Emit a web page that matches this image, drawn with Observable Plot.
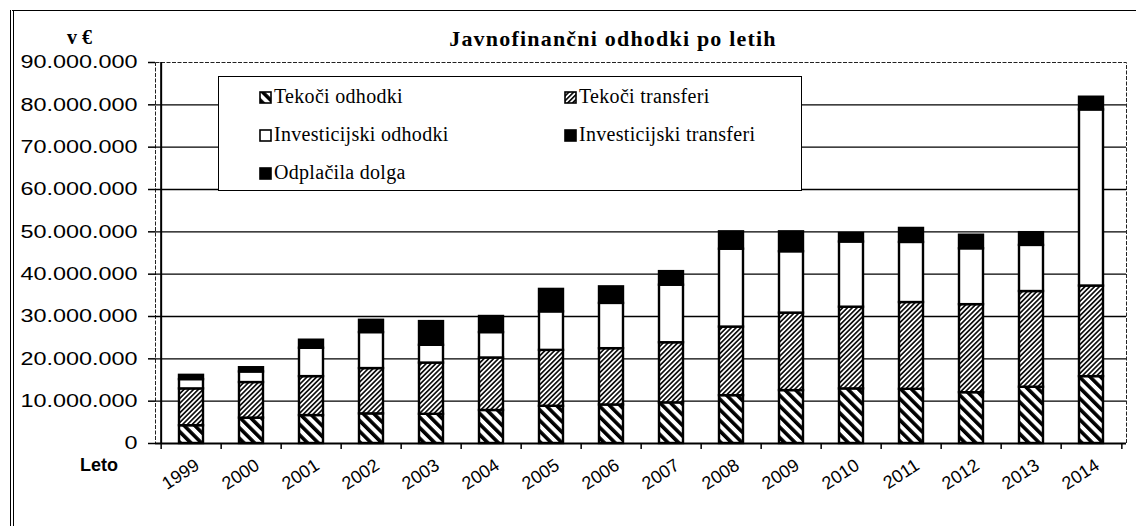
<!DOCTYPE html>
<html>
<head>
<meta charset="utf-8">
<script src="https://cdn.jsdelivr.net/npm/d3@7"></script>
<script src="https://cdn.jsdelivr.net/npm/@observablehq/plot@0.6"></script>
<style>
  html, body { margin: 0; padding: 0; background: #fff; }
  #wrap { position: relative; width: 1136px; height: 526px; overflow: hidden; background: #fff; }
  #wrap svg.plot { position: absolute; left: 0; top: 0; }
  .outer { position: absolute; left: 10px; top: 10px; width: 1140px; height: 600px;
           border-top: 1.5px solid #000; border-left: 4px double #000; box-sizing: border-box; }
  .title { position: absolute; left: 0; width: 1226px; top: 26px; text-align: center;
           font-family: 'Liberation Serif', 'Times New Roman', serif; font-weight: bold; font-size: 22px; letter-spacing: 1.2px; color: #000; }
  .unit { position: absolute; left: 67px; top: 26px; font-family: 'Liberation Serif', serif; font-weight: bold; font-size: 20px; color:#000; }
  .leto { position: absolute; left: 80px; top: 455px; font-family: 'Liberation Sans', Arial, sans-serif; font-weight: bold; font-size: 18px; color:#000; }
  .legend { position: absolute; left: 218px; top: 76px; width: 584px; height: 115px; background: #fff;
            border: 1.5px solid #000; box-sizing: border-box; }
  .li { position: absolute; font-family: 'Liberation Serif', 'Times New Roman', serif; font-size: 20px; color:#000; white-space: nowrap; letter-spacing: 0.3px; }
  .li svg { vertical-align: -1px; margin-right: 2px; }
</style>
</head>
<body>
<div id="wrap">
  <div class="outer"></div>
</div>
<script>
// ---- Data (millions of €) ----
const years = ["1999","2000","2001","2002","2003","2004","2005","2006","2007","2008","2009","2010","2011","2012","2013","2014"];
const seriesNames = ["Tekoči odhodki","Tekoči transferi","Investicijski odhodki","Investicijski transferi","Odplačila dolga"];
const tekociOdhodki        = [4.2, 6.0, 6.6, 7.0, 6.9, 7.8, 8.8, 9.1, 9.6, 11.3, 12.5, 12.9, 12.8, 12.0, 13.3, 15.8];
const tekociTransferi      = [8.7, 8.4, 9.2, 10.7, 12.1, 12.4, 13.2, 13.3, 14.2, 16.2, 18.3, 19.3, 20.5, 20.8, 22.6, 21.4];
const investicijskiOdhodki = [2.2, 2.5, 6.7, 8.5, 4.2, 6.0, 9.1, 10.7, 13.6, 18.4, 14.5, 15.4, 14.2, 13.2, 10.9, 41.6];
const investicijskiTransf  = [1.0, 1.0, 1.9, 2.9, 5.6, 3.8, 5.3, 3.9, 3.2, 4.1, 4.7, 2.0, 3.3, 3.2, 3.0, 3.0];
const odplacilaDolga       = [0, 0, 0, 0, 0, 0, 0, 0, 0, 0, 0, 0, 0, 0, 0, 0];
const yTickValues = [0, 10e6, 20e6, 30e6, 40e6, 50e6, 60e6, 70e6, 80e6, 90e6];
const yTickLabels = ["0","10.000.000","20.000.000","30.000.000","40.000.000","50.000.000","60.000.000","70.000.000","80.000.000","90.000.000"];

const seriesArrays = [tekociOdhodki, tekociTransferi, investicijskiOdhodki, investicijskiTransf, odplacilaDolga];
const seriesFills = ["url(#patA)", "url(#patB)", "#ffffff", "#000000", "#000000"];

const rows = [];
years.forEach((y, i) => {
  seriesNames.forEach((s, k) => rows.push({year: y, series: s, value: seriesArrays[k][i] * 1e6}));
});

const W = 1136, H = 526, mL = 155, mR = 10, mT = 62, mB = 83;
const step = (W - mL - mR) / years.length;

const chart = Plot.plot({
  width: W, height: H,
  marginLeft: mL, marginRight: mR, marginTop: mT, marginBottom: mB,
  style: {fontFamily: "'Liberation Sans', Arial, sans-serif", background: "transparent", color: "#000"},
  x: {domain: years, paddingInner: 0.6, paddingOuter: 0.3, axis: null, label: null},
  y: {domain: [0, 90e6], axis: null, label: null},
  color: {domain: seriesNames, range: seriesFills},
  marks: [
    Plot.frame({stroke: "#222", strokeWidth: 1, strokeDasharray: "4,1.5"}),
    Plot.ruleY(yTickValues.filter(v => v > 0 && v < 90e6), {stroke: "#000", strokeWidth: 1.4}),
    Plot.barY(rows, Plot.stackY({x: "year", y: "value", fill: "series", order: seriesNames, stroke: "#000", strokeWidth: 2.4})),
    Plot.ruleY([0], {stroke: "#000", strokeWidth: 2}),
    Plot.ruleX([years[0]], {x: d => d, dx: -step / 2, stroke: "#000", strokeWidth: 2}),
    Plot.axisY({ticks: yTickValues, label: null, tickFormat: d => yTickLabels[yTickValues.indexOf(d)], tickSize: 7, tickPadding: 11, fontSize: 18, stroke: "#000", strokeWidth: 1.5}),
    Plot.axisX({ticks: years, label: null, tickSize: 6, tickFormat: () => "", dx: -step / 2, stroke: "#000", strokeWidth: 1.5}),
    Plot.axisX({ticks: [years[years.length - 1]], label: null, tickSize: 6, tickFormat: () => "", dx: step / 2, stroke: "#000", strokeWidth: 1.5}),
    Plot.text(years, {x: d => d, text: d => d, frameAnchor: "bottom", dy: 20, dx: 6, rotate: -33, textAnchor: "end", lineAnchor: "middle", fontSize: 18, fill: "#000"})
  ]
});
chart.classList.add("plot");

const defs = `<defs>
  <pattern id="patA" patternUnits="userSpaceOnUse" width="7.5" height="7.5" patternTransform="rotate(-45)">
    <rect width="7.5" height="7.5" fill="#fff"/><rect width="3.6" height="7.5" fill="#000"/>
  </pattern>
  <pattern id="patB" patternUnits="userSpaceOnUse" width="3.4" height="3.4" patternTransform="rotate(45)">
    <rect width="3.4" height="3.4" fill="#fff"/><rect width="1.7" height="3.4" fill="#111"/>
  </pattern>
</defs>`;
chart.insertAdjacentHTML("afterbegin", defs);

const wrap = document.getElementById("wrap");
wrap.appendChild(chart);

// stretch y tick labels horizontally like the original
chart.querySelectorAll('g[aria-label="y-axis tick label"] text').forEach(t => {
  const w = t.getComputedTextLength();
  t.setAttribute("textLength", (w * 1.3).toFixed(1));
  t.setAttribute("lengthAdjust", "spacingAndGlyphs");
});

// Title, unit, axis name
const title = document.createElement("div"); title.className = "title"; title.textContent = "Javnofinančni odhodki po letih"; wrap.appendChild(title);
const unit = document.createElement("div"); unit.className = "unit"; unit.textContent = "v €"; wrap.appendChild(unit);
const leto = document.createElement("div"); leto.className = "leto"; leto.textContent = "Leto"; wrap.appendChild(leto);

// Legend
const legend = document.createElement("div"); legend.className = "legend"; wrap.appendChild(legend);
const legendPos = [[40, 8], [345, 8], [40, 46], [345, 46], [40, 84]];
seriesNames.forEach((s, k) => {
  const d = document.createElement("div"); d.className = "li";
  d.style.left = legendPos[k][0] + "px"; d.style.top = legendPos[k][1] + "px";
  d.innerHTML = `<svg width="13" height="13"><rect x="1" y="1" width="11" height="11" fill="${seriesFills[k]}" stroke="#000" stroke-width="1.6"/></svg>` + s;
  legend.appendChild(d);
});
</script>
</body>
</html>
